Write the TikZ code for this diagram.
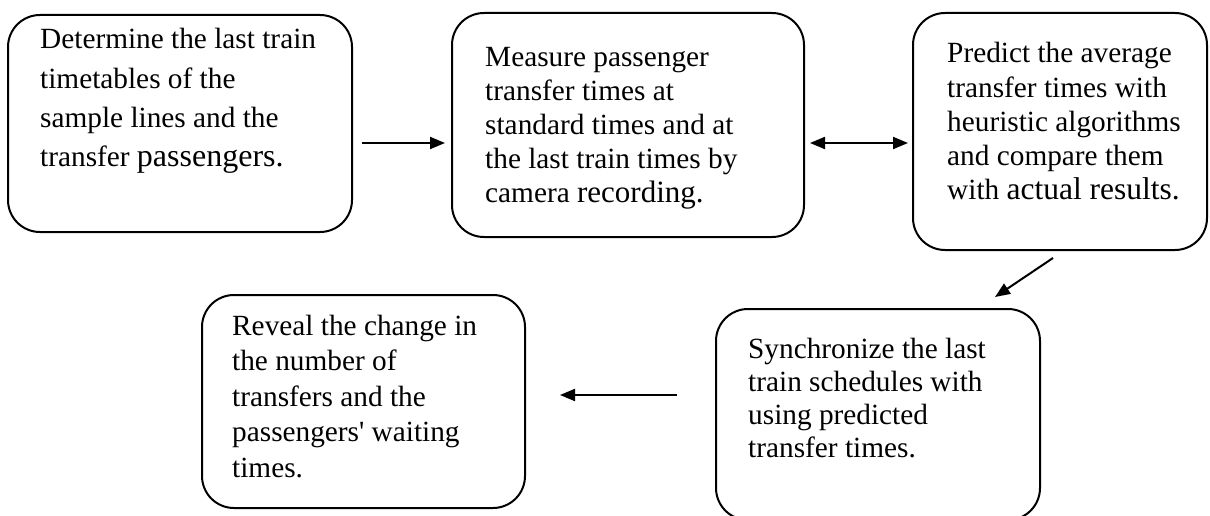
\documentclass[tikz,border=0pt]{standalone}
\usepackage{fontspec}
\newfontfamily\tfont{Liberation Serif}
\usetikzlibrary{arrows.meta}
\tikzset{
  box/.style={draw=black, line width=2pt, rounded corners=32pt, inner sep=0pt, fill=white},
  txt/.style={anchor=base west, inner sep=0pt, font=\tfont\fontsize{29.3}{34}\selectfont},
  conn/.style={line width=2pt, -{Triangle[length=15pt,width=12pt]}},
  dconn/.style={line width=2pt, {Triangle[length=15pt,width=12pt]}-{Triangle[length=15pt,width=12pt]}}
}
\newcommand{\linesat}[2]{\vtop{\baselineskip=#1pt\relax #2}}
\newcommand{\bigw}[2]{{\fontsize{#1}{#1}\selectfont #2}}
\begin{document}
\begin{tikzpicture}[x=1pt,y=-1pt]
\useasboundingbox (0,0) rectangle (1210,516);
\begin{scope}
\clip (0,0) rectangle (1210,516);
\node[box, minimum width=344pt, minimum height=217pt] (b1) at (180,123.5) {};
\node[box, minimum width=352pt, minimum height=224pt] (b2) at (628,125) {};
\node[box, minimum width=294pt, minimum height=237pt] (b3) at (1060,131.5) {};
\node[box, minimum width=324pt, minimum height=211pt] (b4) at (878,414.5) {};
\node[box, minimum width=323pt, minimum height=213pt] (b5) at (363.5,401.5) {};
\end{scope}

\node[txt] (t1) at (40,49) {\linesat{39.3}{\hbox{Determine the last train}\hbox{timetables of the}\hbox{sample lines and the}\hbox{transfer \bigw{32}{passengers.}}}};
\node[txt] (t2) at (485,67) {\linesat{34}{\hbox{Measure passenger}\hbox{transfer times at}\hbox{standard times and at}\hbox{the last train times by}\hbox{camera \bigw{31}{recording.}}}};
\node[txt] (t3) at (947,63) {\linesat{34.25}{\hbox{Predict the average}\hbox{transfer times with}\hbox{heuristic algorithms}\hbox{and compare them}\hbox{with \bigw{31.5}{actual results.}}}};
\node[txt] (t4) at (748,358) {\linesat{33.3}{\hbox{Synchronize the last}\hbox{train schedules with}\hbox{using predicted}\hbox{transfer times.}}};
\node[txt] (t5) at (232,335) {\linesat{35.5}{\hbox{Reveal the change in}\hbox{the number of}\hbox{transfers and the}\hbox{passengers' waiting}\hbox{times.}}};

\coordinate (a1s) at (362,143);
\coordinate (a1e) at (445,143);
\coordinate (a2s) at (810,143);
\coordinate (a2e) at (908,143);
\coordinate (a3s) at (1053,258);
\coordinate (a3e) at (995,297);
\coordinate (a4s) at (677,395);
\coordinate (a4e) at (560,395);

\draw[conn] (a1s) -- (a1e);
\draw[dconn] (a2s) -- (a2e);
\draw[conn] (a3s) -- (a3e);
\draw[conn] (a4s) -- (a4e);
\end{tikzpicture}
\end{document}
